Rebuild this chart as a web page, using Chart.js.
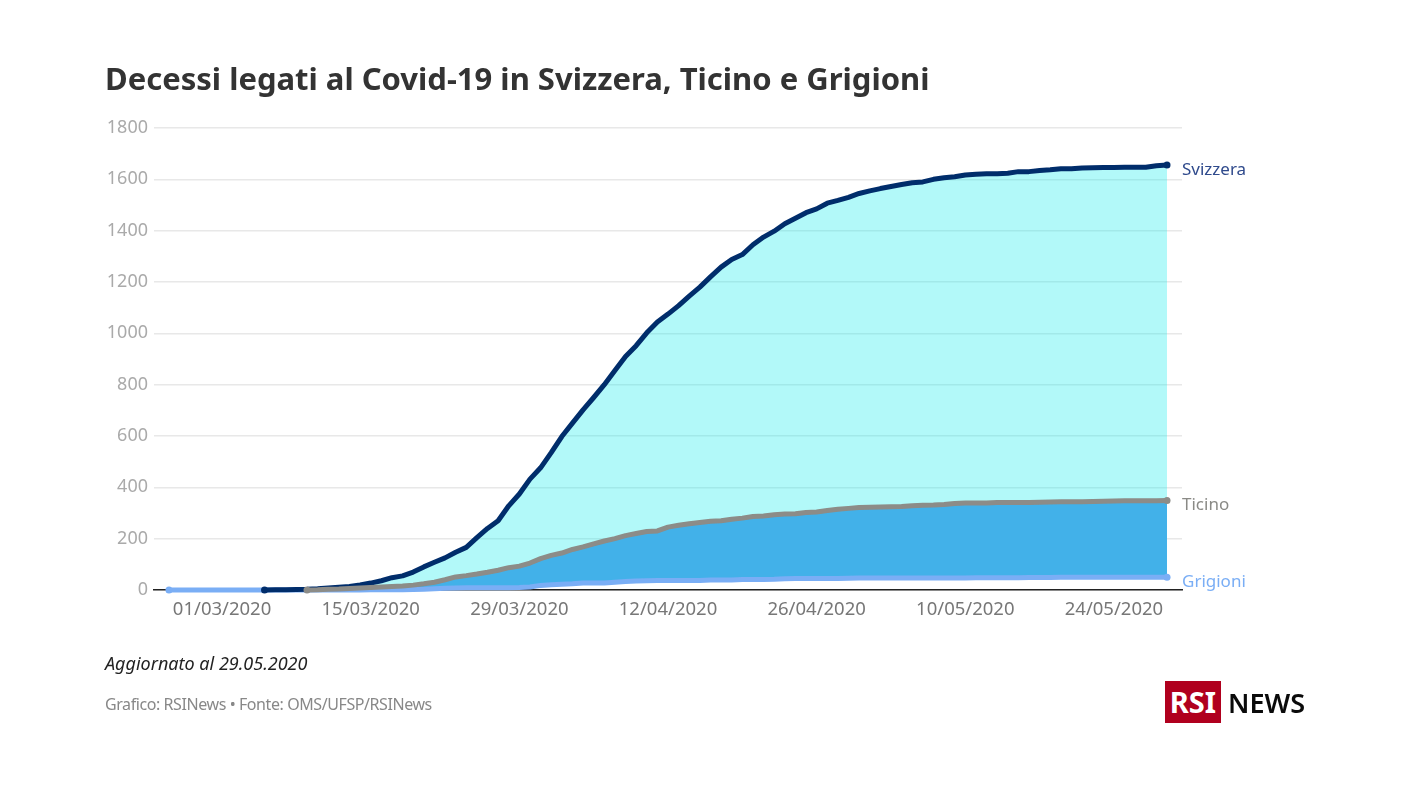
<!DOCTYPE html>
<html lang="it"><head><meta charset="utf-8">
<script src="https://cdn.jsdelivr.net/npm/chart.js@4"></script>
<style>
html,body{margin:0;padding:0;background:#fff;width:1408px;height:792px;overflow:hidden;font-family:"Noto Sans",sans-serif}
canvas{position:absolute;left:0;top:0}
.t{position:absolute;white-space:nowrap;line-height:1}
#title{left:105px;top:63px;font-size:31px;font-weight:700;color:#333}
#upd{left:105px;top:654px;font-size:18px;font-style:italic;color:#222}
#src{left:105px;top:696px;font-size:16px;letter-spacing:-0.42px;color:#888}
#box{position:absolute;left:1165px;top:681px;width:56px;height:42px;background:#b0001e;color:#fff;font-weight:700;font-size:29px;line-height:42px;text-align:center}
#news{left:1228px;top:689px;font-size:27px;font-weight:600;color:#0a0a0a}
</style></head><body>
<canvas id="c" width="1408" height="792"></canvas>
<div class="t" id="title">Decessi legati al Covid-19 in Svizzera, Ticino e Grigioni</div>
<div class="t" id="upd">Aggiornato al 29.05.2020</div>
<div class="t" id="src">Grafico: RSINews • Fonte: OMS/UFSP/RSINews</div>
<div id="box">RSI</div>
<div class="t" id="news">NEWS</div>
<script>
// day 0 = 25/02/2020, one value per day
const tickDays=[5,19,33,47,61,75,89];
const tickLabels=["01/03/2020","15/03/2020","29/03/2020","12/04/2020","26/04/2020","10/05/2020","24/05/2020"];
const yTicks=[0,200,400,600,800,1000,1200,1400,1600,1800];
const svizzeraStart=9;
const svizzera=[0,1,1,2,3,5,8,11,14,20,27,36,48,55,70,90,108,125,147,166,204,240,270,328,374,432,476,535,598,650,702,750,800,855,910,952,1002,1044,1075,1108,1145,1180,1220,1258,1288,1307,1345,1375,1398,1427,1448,1470,1485,1507,1518,1530,1545,1555,1564,1572,1580,1587,1590,1600,1606,1610,1617,1620,1622,1622,1624,1630,1630,1634,1637,1641,1641,1644,1645,1646,1646,1647,1647,1647,1653,1656];
const ticinoStart=13;
const ticino=[0,1,3,4,6,8,10,12,14,16,19,24,30,40,51,56,62,69,77,87,93,105,122,135,144,158,168,180,191,200,212,220,228,230,245,252,258,263,268,270,276,280,286,288,293,296,297,302,304,310,315,318,321,322,323,324,325,328,330,331,333,337,339,339,339,341,341,341,341,342,343,344,344,344,345,346,347,348,348,348,348,349];
const grigioniStart=0;
const grigioni=[0,0,0,0,0,0,0,0,0,0,0,0,0,0,0,0,0,0,0,1,1,1,1,2,3,5,7,8,9,9,9,9,9,10,12,18,20,22,24,27,27,27,30,33,35,36,37,37,37,37,37,39,39,39,41,41,41,42,44,45,45,45,45,45,46,47,47,47,47,47,47,47,47,47,47,47,48,48,48,48,48,49,49,49,50,50,50,50,50,50,50,50,50,50,50];
const colSvizzera="#002d6b",colTicino="#8c8c88",colGrigioni="#7aaef5";
const toPts=(a,s)=>a.map((y,i)=>({x:s+i,y}));
const endDots=ctx=>(ctx.dataIndex===0||ctx.dataIndex===ctx.dataset.data.length-1)?3.5:0;
const seriesLabels={
 id:"seriesLabels",
 afterDatasetsDraw(chart){
  const {ctx,scales:{y}}=chart;
  const items=[["Svizzera",svizzera,"#2f4a8c"],["Ticino",ticino,"#8a8a86"],["Grigioni",grigioni,colGrigioni]];
  ctx.save();ctx.font='17px "Noto Sans"';ctx.textBaseline="middle";ctx.textAlign="left";
  items.forEach(([t,a,c])=>{ctx.fillStyle=c;ctx.fillText(t,chart.chartArea.right,y.getPixelForValue(a[a.length-1])+5);});
  ctx.restore();
 }
};
const base={borderWidth:5,pointRadius:endDots,pointBorderWidth:0,tension:0,borderJoinStyle:"round",borderCapStyle:"round",clip:false};
new Chart(document.getElementById("c"),{
 type:"line",
 data:{datasets:[
  {...base,label:"Ticino",data:toPts(ticino,ticinoStart),borderColor:colTicino,pointBackgroundColor:colTicino,
   fill:{target:2},backgroundColor:"rgba(60,174,232,0.97)"},
  {...base,label:"Svizzera",data:toPts(svizzera,svizzeraStart),borderColor:colSvizzera,pointBackgroundColor:colSvizzera,
   fill:{target:0},backgroundColor:"rgba(0,235,235,0.3)"},
  {...base,label:"Grigioni",data:toPts(grigioni,grigioniStart),borderColor:colGrigioni,pointBackgroundColor:colGrigioni,fill:false}
 ]},
 plugins:[seriesLabels],
 options:{
  responsive:false,animation:false,devicePixelRatio:1,
  layout:{padding:{left:0,right:226,top:128,bottom:162}},
  plugins:{legend:{display:false},tooltip:{enabled:false},title:{display:false},filler:{drawTime:"beforeDatasetsDraw",propagate:false}},
  scales:{
   x:{type:"linear",min:-1.41,max:95.41,
    afterBuildTicks(s){s.ticks=tickDays.map(value=>({value}));},
    afterFit(s){s.height=40;},
    grid:{display:false},
    border:{display:true,color:"#222",width:1.5},
    ticks:{autoSkip:false,maxRotation:0,padding:1,color:"#777",font:{family:"Noto Sans",size:18.5},
     callback:v=>tickLabels[tickDays.indexOf(v)]}},
   y:{min:0,max:1800,
    afterBuildTicks(s){s.ticks=yTicks.map(value=>({value}));},
    afterFit(s){s.width=154;},
    border:{display:false},
    grid:{color:"#e8e8e8",lineWidth:1.5,drawTicks:false},
    ticks:{padding:6,color:"#aaa",font:{family:"Noto Sans",size:18},callback:v=>String(v)}}
  }
 }
});
</script></body></html>
